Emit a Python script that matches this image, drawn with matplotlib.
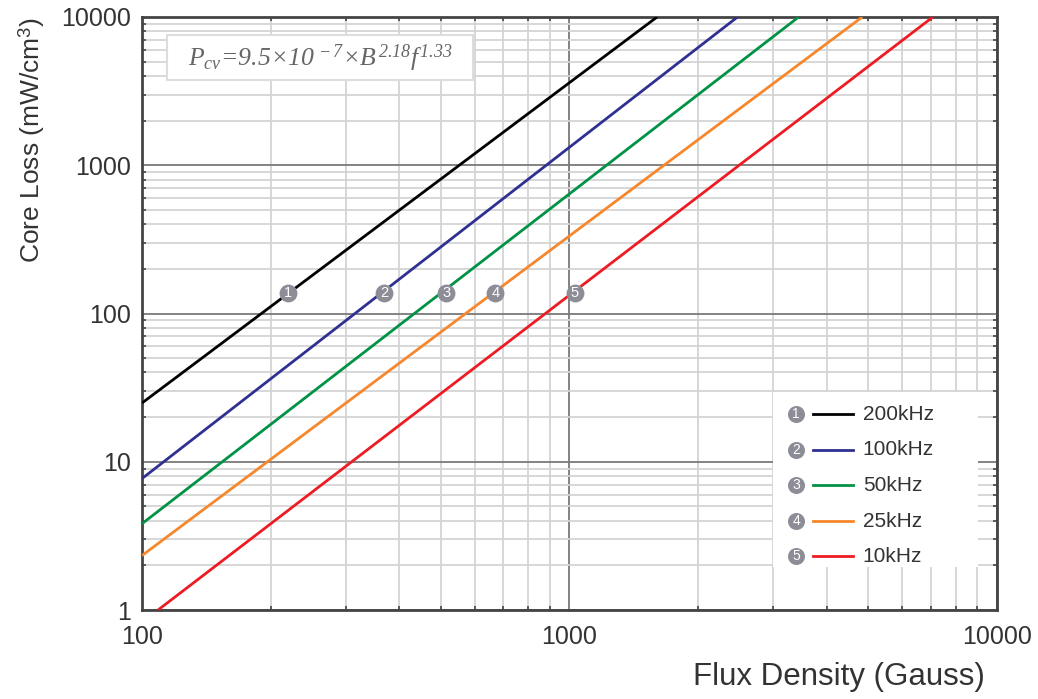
import numpy as np
import matplotlib
matplotlib.use("Agg")
import matplotlib.pyplot as plt
from matplotlib.patches import Rectangle

plt.rcParams['font.family'] = ['Liberation Sans', 'DejaVu Sans']
plt.rcParams['mathtext.fontset'] = 'custom'
plt.rcParams['mathtext.rm'] = 'Liberation Serif:italic'
plt.rcParams['mathtext.it'] = 'Liberation Serif:italic'
plt.rcParams['mathtext.sf'] = 'Liberation Sans'

# curves: start point (B, P) and end point (B, P)
labels = ['200kHz', '100kHz', '50kHz', '25kHz', '10kHz']
nums = ['1', '2', '3', '4', '5']
b_start = [100, 100, 100, 100, 109]
p_start = [24.9, 7.7, 3.82, 2.33, 1.0]
b_end = [1603, 2472, 3436, 4840, 7080]
p_end = [10000, 10000, 10000, 10000, 10000]
# numbered markers sitting on each curve
mark_b = [220, 369, 515, 671, 1028]
mark_p = [138, 138, 138, 138, 138]

colors = ['#000000', '#2e3192', '#009245', '#f7872c', '#ed1c24']
marker_gray = '#8d8d98'

fig = plt.figure(figsize=(10.38, 6.99), dpi=100)
ax = fig.add_axes([0.1368, 0.1273, 0.9605 - 0.1368, 0.9757 - 0.1273])

ax.set_xscale('log')
ax.set_yscale('log')
ax.set_xlim(100, 10000)
ax.set_ylim(1, 10000)

ax.grid(which='minor', color='#d4d4d4', lw=1.3)
ax.grid(which='major', color='#7a7a7a', lw=1.3)
ax.set_axisbelow(True)

for i in range(5):
    ax.plot([b_start[i], b_end[i]], [p_start[i], p_end[i]], color=colors[i], lw=2.0,
            solid_capstyle='butt', zorder=3)
    ax.scatter(mark_b[i], mark_p[i], s=165, color=marker_gray, zorder=4, lw=0)
    ax.text(mark_b[i], mark_p[i], nums[i], color='white', fontsize=10.5,
            ha='center', va='center', zorder=5)

ax.set_xticks([100, 1000, 10000])
ax.set_xticklabels(['100', '1000', '10000'])
ax.set_yticks([1, 10, 100, 1000, 10000])
ax.set_yticklabels(['1', '10', '100', '1000', '10000'])
ax.tick_params(which='both', direction='in', top=True, right=True, color='#444444',
               labelsize=18, labelcolor='#333333')
ax.tick_params(which='major', length=0)
ax.tick_params(axis='x', which='major', pad=11)
ax.tick_params(axis='y', which='major', pad=8)
ax.tick_params(which='minor', length=3, width=1.2)
for s in ax.spines.values():
    s.set_color('#444444')
    s.set_linewidth(2)

ax.set_xlabel('Flux Density (Gauss)', loc='right', fontsize=22.5, color='#333333')
ax.xaxis.set_label_coords(0.986, -0.087)
ax.set_ylabel(r'Core Loss (mW/cm$^{\mathsf{3}}$)', loc='top', fontsize=19, color='#333333',
              labelpad=10)

# formula box
ax.add_patch(Rectangle((0.029, 0.894), 0.358, 0.076, transform=ax.transAxes,
                       facecolor='white', edgecolor='#dddddd', lw=1.5, zorder=6))
ax.text(0.208, 0.931, r'$P_{cv}$=9.5×10$^{\,-7}$×B$^{\,2.18}$f$^{\,1.33}$',
        transform=ax.transAxes, fontsize=18.5, color='#666666', family='Liberation Serif',
        style='italic', ha='center', va='center', zorder=7)

# legend
ax.add_patch(Rectangle((0.738, 0.0725), 0.24, 0.295, transform=ax.transAxes,
                       facecolor='white', edgecolor='none', zorder=6))
ly = [0.330, 0.270, 0.210, 0.150, 0.091]
for i in range(5):
    ax.scatter(0.765, ly[i], s=150, color=marker_gray, transform=ax.transAxes, zorder=7, lw=0)
    ax.text(0.765, ly[i], nums[i], color='white', fontsize=10,
            ha='center', va='center', transform=ax.transAxes, zorder=8)
    ax.plot([0.785, 0.832], [ly[i], ly[i]], color=colors[i], lw=2.0, transform=ax.transAxes,
            zorder=7)
    ax.text(0.843, ly[i], labels[i], fontsize=15, color='#333333', ha='left', va='center',
            transform=ax.transAxes, zorder=8)

fig.savefig('out.png', dpi=100)
